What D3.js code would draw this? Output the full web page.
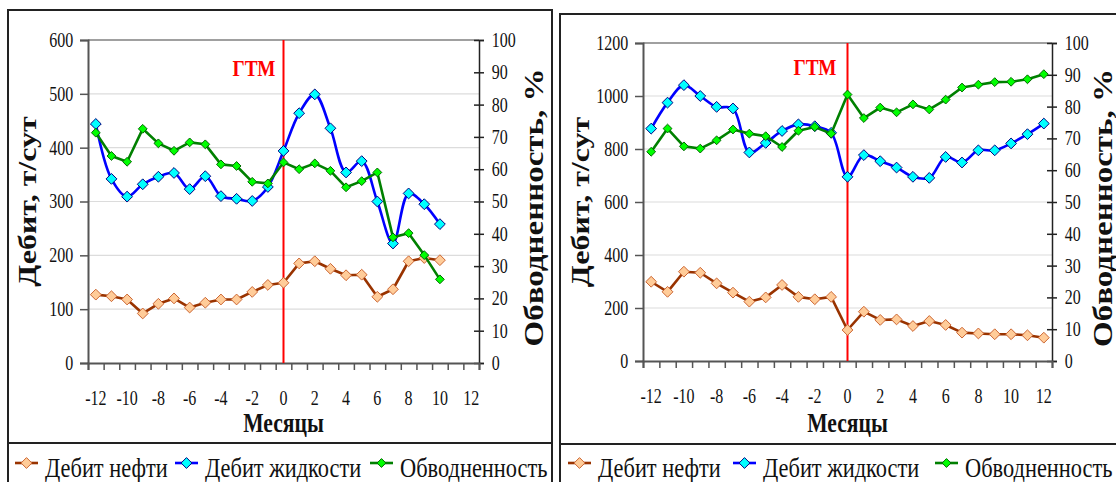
<!DOCTYPE html>
<html>
<head>
<meta charset="utf-8">
<script src="https://cdn.jsdelivr.net/npm/d3@7/dist/d3.min.js"></script>
<style>
  body { margin: 0; background: #fff; }
  svg { display: block; }
  text { font-family: "Liberation Serif", "Times New Roman", serif; }
</style>
</head>
<body>
<svg width="1116" height="482"></svg>
<script>
// months relative to the treatment (ГТМ at 0)
const months = [-12, -11, -10, -9, -8, -7, -6, -5, -4, -3, -2, -1, 0, 1, 2, 3, 4, 5, 6, 7, 8, 9, 10, 11, 12];
const monthLabels = [-12, -10, -8, -6, -4, -2, 0, 2, 4, 6, 8, 10, 12];

// left chart (data until month 10)
const leftOil = [127, 124, 118, 92, 110, 120, 103, 112, 118, 118, 132, 145, 149, 185, 189, 175, 163, 164, 123, 137, 189, 195, 191];
const leftLiquid = [444, 342, 309, 332, 346, 353, 323, 347, 310, 305, 301, 327, 394, 464, 499, 436, 354, 375, 300, 222, 315, 295, 258];
const leftWater = [71.3, 64.1, 62.3, 72.5, 68.0, 65.7, 68.3, 67.7, 61.5, 61.0, 56.1, 55.6, 62.1, 60.0, 61.8, 59.5, 54.4, 56.3, 59.0, 38.9, 40.2, 33.4, 25.9];

// right chart
const rightOil = [299, 261, 337, 333, 293, 258, 224, 240, 287, 242, 233, 242, 117, 186, 155, 157, 132, 151, 136, 107, 104, 101, 101, 97, 88];
const rightLiquid = [877, 975, 1041, 1000, 959, 953, 787, 823, 868, 893, 886, 861, 695, 777, 754, 730, 695, 691, 770, 749, 795, 795, 821, 856, 896];
const rightWater = [65.8, 73.1, 67.5, 66.8, 69.4, 72.8, 71.5, 70.7, 67.3, 72.4, 73.6, 71.5, 83.8, 76.4, 79.7, 78.2, 80.7, 79.1, 82.2, 86.0, 86.9, 87.7, 87.8, 88.6, 90.2];

const leftRateTicks = [0, 100, 200, 300, 400, 500, 600];
const rightRateTicks = [0, 200, 400, 600, 800, 1000, 1200];
const waterTicks = [0, 10, 20, 30, 40, 50, 60, 70, 80, 90, 100];
const seriesNames = ["Дебит нефти", "Дебит жидкости", "Обводненность"];
const gtmMonth = 0;

const SX = 0.8; // the picture is squeezed horizontally
const FONT = '"Liberation Serif", "Times New Roman", serif';
const svg = d3.select("svg");

const styles = [
  { line: "#993300", fill: "#ffcc99", stroke: "#cc6633", r: 5.4, curve: d3.curveLinear },
  { line: "#0000ff", fill: "#00ffff", stroke: "#000080", r: 5.4, curve: d3.curveCatmullRom },
  { line: "#008000", fill: "#00ff00", stroke: "#006600", r: 4.4, curve: d3.curveLinear }
];

function diamond(r) {
  return `M0,${-r}L${r},0L0,${r}L${-r},0Z`;
}

function hText(g, x, y, str, size, anchor) {
  return g.append("text")
    .attr("transform", `translate(${x},${y}) scale(${SX},1)`)
    .attr("font-family", FONT)
    .attr("font-size", size)
    .attr("text-anchor", anchor || "middle")
    .attr("fill", "#111")
    .text(str);
}

function vText(g, x, y, str, size) {
  return g.append("text")
    .attr("transform", `translate(${x},${y}) rotate(-90) scale(1,${SX})`)
    .attr("font-family", FONT)
    .attr("font-size", size)
    .attr("font-weight", "bold")
    .attr("text-anchor", "middle")
    .attr("fill", "#111")
    .text(str);
}

function styleAxis(a, color, width) {
  a.attr("font-family", FONT).attr("font-size", 20);
  a.select(".domain").attr("stroke", color).attr("stroke-width", width);
  a.selectAll(".tick line").attr("stroke", color).attr("stroke-width", 1.5);
  a.selectAll(".tick text")
    .attr("transform", `scale(${SX},1)`).attr("fill", "#111");
}

function drawChart(c) {
  const g = svg.append("g");
  const p = c.plot;

  // frame and legend separator
  g.append("rect")
    .attr("x", c.frame.x).attr("y", c.frame.y)
    .attr("width", c.frame.w).attr("height", 500)
    .attr("fill", "none").attr("stroke", "#222").attr("stroke-width", 2);
  g.append("line")
    .attr("x1", c.frame.x).attr("x2", c.frame.x + c.frame.w)
    .attr("y1", c.sepY).attr("y2", c.sepY)
    .attr("stroke", "#222").attr("stroke-width", 2);

  const x = d3.scaleLinear().domain([-12.5, 12.5]).range([p.l, p.r]);
  const y = d3.scaleLinear().domain([0, d3.max(c.rateTicks)]).range([p.b, p.t]);
  const y2 = d3.scaleLinear().domain([0, 100]).range([p.b, p.t]);

  // gridlines
  g.selectAll(".grid").data(c.rateTicks.slice(1, -1)).join("line")
    .attr("x1", p.l).attr("x2", p.r)
    .attr("y1", d => y(d)).attr("y2", d => y(d))
    .attr("stroke", "#dcdcdc").attr("stroke-width", 1.2);
  g.append("line")
    .attr("x1", p.l).attr("x2", p.r)
    .attr("y1", p.t).attr("y2", p.t)
    .attr("stroke", "#a0a0a0").attr("stroke-width", 2);

  // left axis
  const ax = g.append("g").attr("transform", `translate(${p.l},0)`)
    .call(d3.axisLeft(y).tickValues(c.rateTicks).tickFormat(d => d)
      .tickSizeOuter(0).tickSize(8).tickPadding(10.5));
  styleAxis(ax, "#555", 2);

  // right axis (ticks cross the line)
  const ar = g.append("g").attr("transform", `translate(${p.r},0)`)
    .call(d3.axisRight(y2).tickValues(waterTicks).tickFormat(d => d)
      .tickSizeOuter(0).tickSize(5).tickPadding(11));
  styleAxis(ar, "#222", 1.5);
  ar.selectAll(".tick line").attr("x1", -5);

  // bottom axis: tick marks between categories
  const bounds = months.concat([13]).map(m => m - 0.5);
  const ab = g.append("g").attr("transform", `translate(0,${p.b})`)
    .call(d3.axisBottom(x).tickValues(bounds).tickFormat("").tickSizeOuter(0).tickSize(7));
  styleAxis(ab, "#555", 2);
  g.selectAll(".xlab").data(monthLabels).join("text")
    .attr("transform", d => `translate(${x(d)},${p.b + 42}) scale(${SX},1)`)
    .attr("font-family", FONT)
    .attr("font-size", 20).attr("text-anchor", "middle").attr("fill", "#111")
    .text(d => d);

  // ГТМ marker line
  g.append("line")
    .attr("x1", x(gtmMonth)).attr("x2", x(gtmMonth))
    .attr("y1", p.t).attr("y2", p.b)
    .attr("stroke", "#ff0000").attr("stroke-width", 2);
  hText(g, c.gtmX, c.gtmY, "ГТМ", 24).attr("font-weight", "bold").attr("fill", "#ff0000");

  // series
  const series = [
    { values: c.oil, scale: y },
    { values: c.liquid, scale: y },
    { values: c.water, scale: y2 }
  ];
  series.forEach((s, k) => {
    const st = styles[k];
    const line = d3.line().x((d, i) => x(months[i])).y(d => s.scale(d)).curve(st.curve);
    g.append("path").datum(s.values)
      .attr("d", line).attr("fill", "none")
      .attr("stroke", st.line).attr("stroke-width", 2.6).attr("stroke-linejoin", "round");
    g.selectAll(null).data(s.values).join("path")
      .attr("d", diamond(st.r))
      .attr("transform", (d, i) => `translate(${x(months[i])},${s.scale(d)})`)
      .attr("fill", st.fill).attr("stroke", st.stroke).attr("stroke-width", 1);
  });

  // axis titles
  vText(g, c.leftTitleX, (p.t + p.b) / 2, "Дебит, т/сут", 32);
  vText(g, c.rightTitleX, (p.t + p.b) / 2 + 6, "Обводненность, %", 33);
  hText(g, (p.l + p.r) / 2, 432, "Месяцы", 27).attr("font-weight", "bold");

  // legend
  seriesNames.forEach((name, k) => {
    const st = styles[k];
    const lx = c.legendX[k];
    g.append("line")
      .attr("x1", lx).attr("x2", lx + 23)
      .attr("y1", c.legendY).attr("y2", c.legendY)
      .attr("stroke", st.line).attr("stroke-width", 2.6);
    g.append("path").attr("d", diamond(st.r))
      .attr("transform", `translate(${lx + 11.5},${c.legendY})`)
      .attr("fill", st.fill).attr("stroke", st.stroke).attr("stroke-width", 1);
    hText(g, lx + 30, 477, name, 28, "start");
  });
}

drawChart({
  frame: { x: 8, y: 10, w: 544 }, sepY: 443,
  plot: { l: 88, t: 40, r: 479, b: 363 },
  rateTicks: leftRateTicks, oil: leftOil, liquid: leftLiquid, water: leftWater,
  leftTitleX: 36, rightTitleX: 543, gtmX: 254, gtmY: 76,
  legendX: [15, 175, 370], legendY: 463
});

drawChart({
  frame: { x: 560, y: 14, w: 570 }, sepY: 444,
  plot: { l: 643, t: 43, r: 1052, b: 361 },
  rateTicks: rightRateTicks, oil: rightOil, liquid: rightLiquid, water: rightWater,
  leftTitleX: 589, rightTitleX: 1112, gtmX: 815, gtmY: 75,
  legendX: [568, 733, 935], legendY: 463
});
</script>
</body>
</html>
